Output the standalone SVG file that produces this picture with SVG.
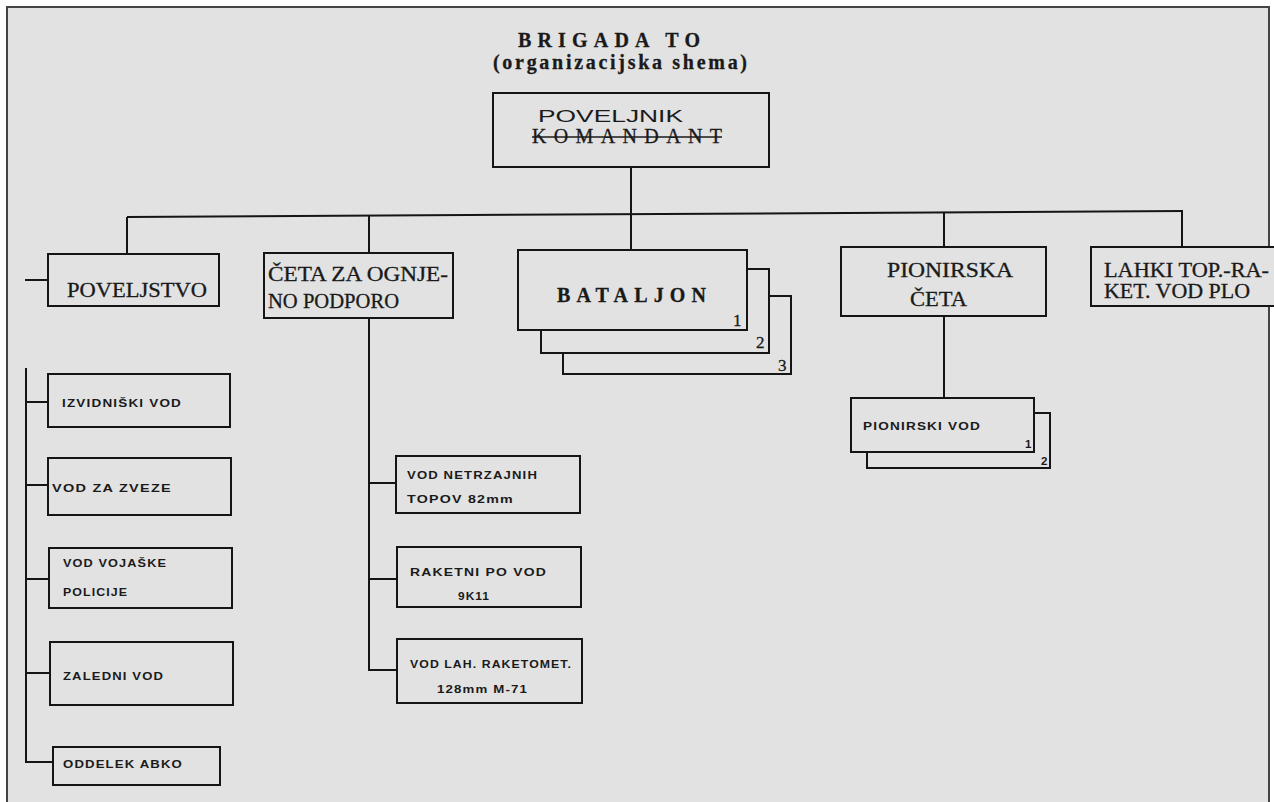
<svg xmlns="http://www.w3.org/2000/svg" width="1274" height="802" viewBox="0 0 1274 802">
<style>
.box{fill:#e2e2e2;stroke:#151515;stroke-width:2}
.ln{fill:none;stroke:#151515;stroke-width:2}
.serif{font-family:"Liberation Serif","DejaVu Serif",serif;fill:#1a1a1a;font-size:20px;stroke:#1a1a1a;stroke-width:0.3}
.sm{font-family:"Liberation Sans","DejaVu Sans",sans-serif;font-weight:bold;font-size:11.5px;fill:#1a1a1a;letter-spacing:1px}
.num{font-family:"Liberation Serif",serif;font-size:17px;fill:#1a1a1a;stroke:#1a1a1a;stroke-width:0.3}
</style>
<rect x="0" y="0" width="1274" height="802" fill="#ffffff"/>
<rect x="7" y="7" width="1262" height="810" fill="#e2e2e2" stroke="#444" stroke-width="2"/>

<g id="title">
<text class="serif" x="518" y="47" font-size="20" font-weight="bold" textLength="182" lengthAdjust="spacing">BRIGADA  TO</text>
<text class="serif" x="493" y="69" font-size="19" font-weight="bold" textLength="254" lengthAdjust="spacing">(organizacijska shema)</text>
</g>

<g id="connectors">
<path class="ln" d="M631 167 V213"/>
<path class="ln" d="M127 217 L1183 211"/>
<path class="ln" d="M127 217 V254"/>
<path class="ln" d="M369 216 V253"/>
<path class="ln" d="M631 213 V250"/>
<path class="ln" d="M944 212 V247"/>
<path class="ln" d="M1182 211 V247"/>
<path class="ln" d="M25 280 H48"/>
<path class="ln" d="M26 368 V762 H53"/>
<path class="ln" d="M26 402 H48"/>
<path class="ln" d="M26 485 H48"/>
<path class="ln" d="M27 579 H49"/>
<path class="ln" d="M27 673 H50"/>
<path class="ln" d="M369 318 V670 H397"/>
<path class="ln" d="M369 483 H396"/>
<path class="ln" d="M369 579 H397"/>
<path class="ln" d="M944 316 V398"/>
</g>

<g id="komandant">
<rect class="box" x="493" y="93" width="276" height="74"/>
<text x="538" y="122" font-family="Liberation Sans, sans-serif" font-size="17" fill="#1a1a1a" textLength="145" lengthAdjust="spacingAndGlyphs">POVELJNIK</text>
<text class="serif" x="532" y="143" font-size="21" textLength="190" lengthAdjust="spacing">KOMANDANT</text>
<line x1="532" y1="137" x2="722" y2="137" stroke="#1a1a1a" stroke-width="1.5"/>
</g>

<g id="poveljstvo">
<rect class="box" x="48" y="254" width="171" height="52"/>
<text class="serif" x="67" y="297" textLength="140" lengthAdjust="spacingAndGlyphs">POVELJSTVO</text>
</g>

<g id="ceta-ognjena">
<rect class="box" x="264" y="253" width="189" height="65"/>
<text class="serif" x="268" y="281" textLength="180" lengthAdjust="spacingAndGlyphs">ČETA ZA OGNJE-</text>
<text class="serif" x="268" y="308" textLength="131" lengthAdjust="spacingAndGlyphs">NO PODPORO</text>
</g>

<g id="bataljon">
<rect class="box" x="563" y="296" width="228" height="78"/>
<rect class="box" x="541" y="269" width="228" height="84"/>
<rect class="box" x="518" y="250" width="229" height="80"/>
<text class="serif" x="557" y="302" font-size="22" font-weight="bold" textLength="149" lengthAdjust="spacing">BATALJON</text>
<text class="num" x="733" y="326">1</text>
<text class="num" x="756" y="348">2</text>
<text class="num" x="778" y="371">3</text>
</g>

<g id="pionirska-ceta">
<rect class="box" x="841" y="247" width="205" height="69"/>
<text class="serif" x="887" y="277" textLength="126" lengthAdjust="spacingAndGlyphs">PIONIRSKA</text>
<text class="serif" x="910" y="306" textLength="57" lengthAdjust="spacingAndGlyphs">ČETA</text>
</g>

<g id="lahki-vod">
<rect class="box" x="1091" y="247" width="190" height="59"/>
<text class="serif" x="1104" y="277" textLength="165" lengthAdjust="spacingAndGlyphs">LAHKI TOP.-RA-</text>
<text class="serif" x="1104" y="298" textLength="146" lengthAdjust="spacingAndGlyphs">KET. VOD PLO</text>
</g>

<g id="pionirski-vod">
<rect class="box" x="867" y="413" width="183" height="55"/>
<rect class="box" x="851" y="398" width="183" height="54"/>
<text class="sm" x="863" y="430" textLength="118" lengthAdjust="spacingAndGlyphs">PIONIRSKI  VOD</text>
<text class="sm" x="1025" y="448">1</text>
<text class="sm" x="1041" y="465">2</text>
</g>

<g id="izvidniski-vod">
<rect class="box" x="48" y="374" width="182" height="53"/>
<text class="sm" x="62" y="407" textLength="120" lengthAdjust="spacingAndGlyphs">IZVIDNIŠKI  VOD</text>
</g>

<g id="vod-za-zveze">
<rect class="box" x="48" y="458" width="183" height="57"/>
<text class="sm" x="52" y="492" textLength="120" lengthAdjust="spacingAndGlyphs">VOD ZA  ZVEZE</text>
</g>

<g id="vod-vojaske-policije">
<rect class="box" x="49" y="548" width="183" height="60"/>
<text class="sm" x="63" y="567" textLength="104" lengthAdjust="spacingAndGlyphs">VOD  VOJAŠKE</text>
<text class="sm" x="63" y="596" textLength="65" lengthAdjust="spacingAndGlyphs">POLICIJE</text>
</g>

<g id="zaledni-vod">
<rect class="box" x="50" y="642" width="183" height="63"/>
<text class="sm" x="63" y="680" textLength="101" lengthAdjust="spacingAndGlyphs">ZALEDNI VOD</text>
</g>

<g id="oddelek-abko">
<rect class="box" x="53" y="747" width="167" height="38"/>
<text class="sm" x="63" y="768" textLength="120" lengthAdjust="spacingAndGlyphs">ODDELEK  ABKO</text>
</g>

<g id="vod-netrzajnih">
<rect class="box" x="396" y="456" width="184" height="57"/>
<text class="sm" x="407" y="479" textLength="131" lengthAdjust="spacingAndGlyphs">VOD  NETRZAJNIH</text>
<text class="sm" x="407" y="503" textLength="107" lengthAdjust="spacingAndGlyphs">TOPOV  82mm</text>
</g>

<g id="raketni-po-vod">
<rect class="box" x="397" y="547" width="184" height="60"/>
<text class="sm" x="410" y="576" textLength="137" lengthAdjust="spacingAndGlyphs">RAKETNI  PO  VOD</text>
<text class="sm" x="458" y="600" textLength="32" lengthAdjust="spacingAndGlyphs">9K11</text>
</g>

<g id="vod-lah-raketomet">
<rect class="box" x="397" y="639" width="185" height="64"/>
<text class="sm" x="410" y="668" textLength="162" lengthAdjust="spacingAndGlyphs">VOD LAH. RAKETOMET.</text>
<text class="sm" x="437" y="693" textLength="91" lengthAdjust="spacingAndGlyphs">128mm  M-71</text>
</g>
</svg>
